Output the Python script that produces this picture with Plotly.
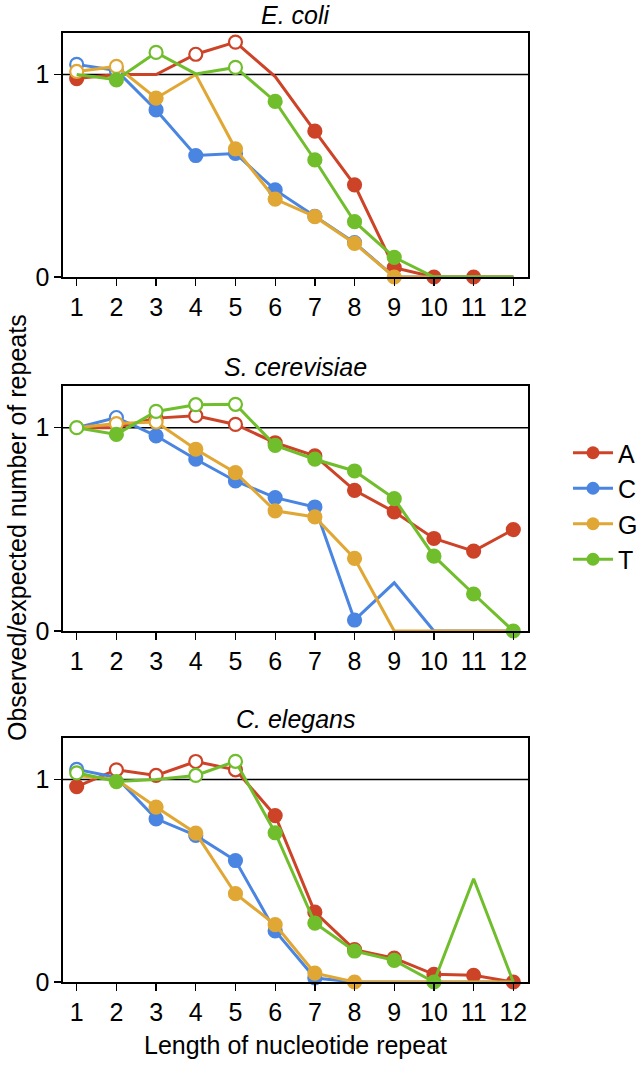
import plotly.graph_objects as go

# ---------------- data ----------------
lengths = [1, 2, 3, 4, 5, 6, 7, 8, 9, 10, 11, 12]
species = ["E. coli", "S. cerevisiae", "C. elegans"]
bases = ["A", "C", "G", "T"]

# observed/expected ratios, per species, per base
ecoli_A = [0.98, 1.00, 1.00, 1.10, 1.16, 0.99, 0.72, 0.455, 0.046, 0.0, 0.0, 0.0]
ecoli_C = [1.05, 1.02, 0.825, 0.60, 0.61, 0.43, 0.30, 0.17, 0.0, 0.0, 0.0, 0.0]
ecoli_G = [1.015, 1.04, 0.883, 1.00, 0.633, 0.385, 0.298, 0.166, 0.0, 0.0, 0.0, 0.0]
ecoli_T = [1.00, 0.974, 1.109, 1.003, 1.035, 0.867, 0.578, 0.273, 0.097, 0.0, 0.0, 0.0]

scer_A = [1.00, 1.00, 1.047, 1.059, 1.016, 0.926, 0.861, 0.692, 0.586, 0.455, 0.393, 0.499]
scer_C = [1.00, 1.05, 0.96, 0.845, 0.738, 0.656, 0.61, 0.054, 0.237, 0.0, 0.0, 0.0]
scer_G = [1.00, 1.02, 1.028, 0.894, 0.779, 0.591, 0.561, 0.357, 0.0, 0.0, 0.0, 0.0]
scer_T = [1.00, 0.967, 1.08, 1.113, 1.115, 0.913, 0.845, 0.787, 0.651, 0.368, 0.182, 0.0]

cel_A = [0.965, 1.048, 1.02, 1.089, 1.048, 0.822, 0.345, 0.16, 0.118, 0.038, 0.033, 0.0]
cel_C = [1.05, 1.01, 0.806, 0.724, 0.60, 0.252, 0.02, 0.0, 0.0, 0.0, 0.0, 0.0]
cel_G = [1.02, 1.00, 0.864, 0.735, 0.436, 0.283, 0.044, 0.0, 0.0, 0.0, 0.0, 0.0]
cel_T = [1.033, 0.99, 1.00, 1.02, 1.09, 0.737, 0.291, 0.153, 0.107, 0.0, 0.51, 0.0]

# significance: "+" over-represented, "-" under-represented, "0" not significant
ecoli_A_sig = ["-", "0", "0", "+", "+", "0", "-", "-", "-", "-", "-", "0"]
ecoli_C_sig = ["+", "+", "-", "-", "-", "-", "-", "-", "0", "0", "0", "0"]
ecoli_G_sig = ["+", "+", "-", "0", "-", "-", "-", "-", "-", "0", "0", "0"]
ecoli_T_sig = ["0", "-", "+", "0", "+", "-", "-", "-", "-", "0", "0", "0"]

scer_A_sig = ["0", "0", "+", "+", "+", "-", "-", "-", "-", "-", "-", "-"]
scer_C_sig = ["0", "+", "-", "-", "-", "-", "-", "-", "0", "0", "0", "0"]
scer_G_sig = ["0", "+", "+", "-", "-", "-", "-", "-", "0", "0", "0", "0"]
scer_T_sig = ["+", "-", "+", "+", "+", "-", "-", "-", "-", "-", "-", "-"]

cel_A_sig = ["-", "+", "+", "+", "+", "-", "-", "-", "-", "-", "-", "-"]
cel_C_sig = ["+", "0", "-", "-", "-", "-", "-", "0", "0", "0", "0", "0"]
cel_G_sig = ["0", "0", "-", "-", "-", "-", "-", "-", "0", "0", "0", "0"]
cel_T_sig = ["+", "-", "0", "+", "+", "-", "-", "-", "-", "-", "0", "0"]

values = {
    "E. coli": [ecoli_A, ecoli_C, ecoli_G, ecoli_T],
    "S. cerevisiae": [scer_A, scer_C, scer_G, scer_T],
    "C. elegans": [cel_A, cel_C, cel_G, cel_T],
}
signif = {
    "E. coli": [ecoli_A_sig, ecoli_C_sig, ecoli_G_sig, ecoli_T_sig],
    "S. cerevisiae": [scer_A_sig, scer_C_sig, scer_G_sig, scer_T_sig],
    "C. elegans": [cel_A_sig, cel_C_sig, cel_G_sig, cel_T_sig],
}
y_ticks = [0, 1]

# ---------------- style ----------------
colors = ["#CD4328", "#4A85E2", "#E1A734", "#71BE2D"]
FONT = "Liberation Sans, Arial, sans-serif"
FS = 25

W, H = 644, 1070
L, R, T, B = 63, 528, 33, 982          # plot area in pixels
panels_px = [(33, 277), (386, 631), (738, 982)]


def py(p):
    return (B - p) / (B - T)


def px(p):
    return (p - L) / (R - L)


fig = go.Figure()

for i, sp in enumerate(species):
    xa = "x" if i == 0 else f"x{i+1}"
    ya = "y" if i == 0 else f"y{i+1}"
    for j, b in enumerate(bases):
        vals = values[sp][j]
        sig = signif[sp][j]
        sizes = [0 if s == "0" else 13 for s in sig]
        fills = ["white" if s == "+" else colors[j] for s in sig]
        fig.add_trace(go.Scatter(
            x=lengths, y=vals, xaxis=xa, yaxis=ya,
            mode="lines+markers", showlegend=False, cliponaxis=False,
            line=dict(color=colors[j], width=3),
            marker=dict(symbol="circle", size=sizes, color=fills, opacity=1,
                        line=dict(color=colors[j], width=2.2)),
            hoverinfo="skip",
        ))

# legend-only entries
for j, b in enumerate(bases):
    fig.add_trace(go.Scatter(
        x=[None], y=[None], mode="lines+markers", name=b,
        line=dict(color=colors[j], width=3),
        marker=dict(size=13, color=colors[j], opacity=1),
    ))

axis_common = dict(
    showline=True, linecolor="black", linewidth=1.6, mirror=True,
    showgrid=False, zeroline=False, ticks="outside", ticklen=7,
    tickwidth=1.3, tickcolor="black",
    tickfont=dict(family=FONT, size=FS, color="black"),
)

layout = dict(
    width=W, height=H,
    margin=dict(l=L, r=W - R, t=T, b=H - B, autoexpand=False),
    paper_bgcolor="white", plot_bgcolor="white",
    font=dict(family=FONT, size=FS, color="black"),
    legend=dict(x=px(568), y=py(430), xanchor="left", yanchor="top",
                font=dict(family=FONT, size=FS, color="black"),
                tracegroupgap=0, itemwidth=40, bgcolor="rgba(0,0,0,0)"),
    shapes=[], annotations=[],
)

for i, (top, bot) in enumerate(panels_px):
    xk = "xaxis" if i == 0 else f"xaxis{i+1}"
    yk = "yaxis" if i == 0 else f"yaxis{i+1}"
    xa = "x" if i == 0 else f"x{i+1}"
    ya = "y" if i == 0 else f"y{i+1}"
    layout[xk] = dict(axis_common, domain=[0, 1], anchor=ya,
                      range=[0.655, 12.37], tickvals=lengths,
                      ticktext=[str(v) for v in lengths])
    layout[yk] = dict(axis_common, domain=[py(bot), py(top)], anchor=xa,
                      range=[0, 1.205], tickvals=y_ticks,
                      ticktext=[str(v) for v in y_ticks])
    layout["shapes"].append(dict(
        type="line", xref=f"{xa} domain", x0=0, x1=1, yref=ya, y0=1, y1=1,
        line=dict(color="black", width=1.5), layer="below"))

title_centers = [15, 367, 719]
for sp, c in zip(species, title_centers):
    layout["annotations"].append(dict(
        text=f"<i>{sp}</i>", xref="paper", yref="paper",
        x=0.5, y=py(c), xanchor="center", yanchor="middle",
        showarrow=False, font=dict(family=FONT, size=FS, color="black")))

layout["annotations"].append(dict(
    text="Length of nucleotide repeat", xref="paper", yref="paper",
    x=0.5, y=py(1045), xanchor="center", yanchor="middle",
    showarrow=False, font=dict(family=FONT, size=FS, color="black")))
layout["annotations"].append(dict(
    text="Observed/expected number of repeats", xref="paper", yref="paper",
    x=px(1), y=py(528), xanchor="left", yanchor="middle", textangle=-90,
    showarrow=False, font=dict(family=FONT, size=FS, color="black")))

fig.update_layout(**layout)
fig.write_html("out.html",
               config={"displayModeBar": False, "staticPlot": True},
               post_script="document.body.style.margin='0';"
                           "document.body.style.padding='0';")
